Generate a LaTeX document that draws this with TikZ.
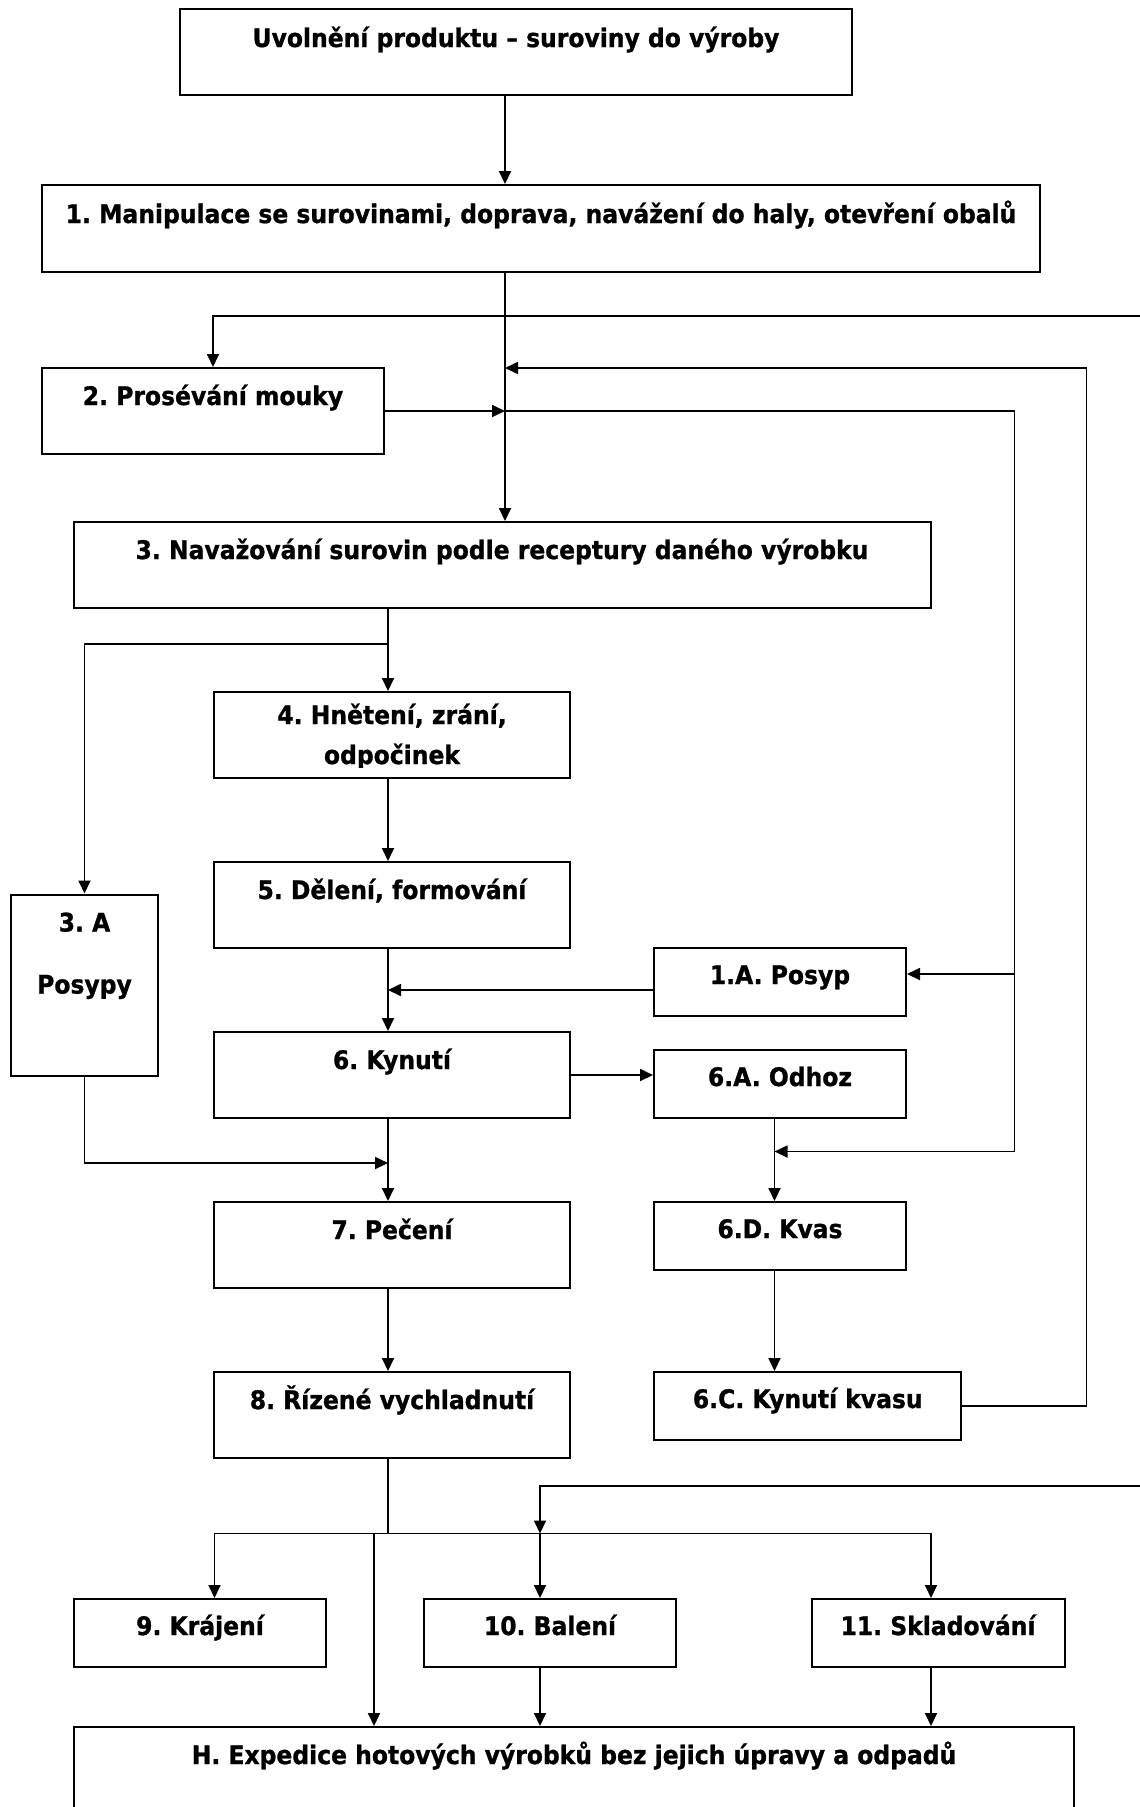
\documentclass[tikz,border=0pt]{standalone}
\usepackage{fontspec}
\setmainfont{DejaVu Sans}[FakeStretch=0.92, BoldFeatures={FakeBold=1}]
\frenchspacing
\usetikzlibrary{arrows.meta,positioning,calc}

\begin{document}
\begin{tikzpicture}[
  x=1pt,
  y=-1pt,
  every node/.style={font=\fontsize{25.5}{30}\selectfont\bfseries},
  box/.style 2 args={draw, line width=2pt, inner sep=0pt, minimum width=#1, minimum height=#2},
  lbl/.style={anchor=base, inner sep=0pt},
  arr/.style={line width=1.8pt, -{Triangle[length=13pt,width=12pt]}},
  link/.style={line width=1.8pt}
]
  \path[fill=white, use as bounding box] (0,0) rectangle (1140,1807);

  % Columns of the connectors
  \coordinate (trunk) at (505,0);
  \coordinate (spine) at (388,0);
  \coordinate (loopA) at (1014.5,0);
  \coordinate (kvas) at (774.5,0);
  \coordinate (back) at (1086.5,368);
  \coordinate (feedA) at (1145,316);
  \coordinate (feedB) at (1145,1486);

  % Main column
  \node[box={672pt}{86pt}] (b0) at (516,52) {};
  \node[lbl] (t0) at ([yshift=-39pt]b0.north) {Uvolnění produktu – suroviny do výroby};
  \node[box={998pt}{87pt}] (b1) at (541,228.5) {};
  \node[lbl] (t1) at ([yshift=-39pt]b1.north) {1. Manipulace se surovinami, doprava, navážení do haly, otevření obalů};
  \node[box={342pt}{86pt}] (b2) at (213,411) {};
  \node[lbl] (t2) at ([yshift=-38pt]b2.north) {2. Prosévání mouky};
  \node[box={857pt}{86pt}] (b3) at (502,565) {};
  \node[lbl] (t3) at ([yshift=-38pt]b3.north) {3. Navažování surovin podle receptury daného výrobku};
  \node[box={356pt}{86pt}] (b4) at (392,735) {};
  \node[lbl] (t4a) at ([yshift=-33pt]b4.north) {4. Hnětení, zrání,};
  \begin{scope}
    \clip (b4.north west) rectangle ([yshift=12pt]b4.south east);
    \node[lbl] (t4b) at ([yshift=-73pt]b4.north) {odpočinek};
  \end{scope}
  \node[box={356pt}{86pt}] (b5) at (392,905) {};
  \node[lbl] (t5) at ([yshift=-38pt]b5.north) {5. Dělení, formování};
  \node[box={147pt}{181pt}] (b3a) at (84.5,985) {};
  \node[lbl] (t3a) at ([yshift=-38pt]b3a.north) {3. A};
  \node[lbl] (t3b) at ([yshift=-100pt]b3a.north) {Posypy};
  \node[box={356pt}{86pt}] (b6) at (392,1075) {};
  \node[lbl] (t6) at ([yshift=-38pt]b6.north) {6. Kynutí};
  \node[box={356pt}{86pt}] (b7) at (392,1245) {};
  \node[lbl] (t7) at ([yshift=-38pt]b7.north) {7. Pečení};
  \node[box={356pt}{86pt}] (b8) at (392,1415) {};
  \node[lbl] (t8) at ([yshift=-38pt]b8.north) {8. Řízené vychladnutí};

  % Side column
  \node[box={252pt}{68pt}] (b1a) at (780,982) {};
  \node[lbl] (t1a) at ([yshift=-37pt]b1a.north) {1.A. Posyp};
  \node[box={252pt}{68pt}] (b6a) at (780,1084) {};
  \node[lbl] (t6a) at ([yshift=-37pt]b6a.north) {6.A. Odhoz};
  \node[box={252pt}{68pt}] (b6d) at (780,1236) {};
  \node[lbl] (t6d) at ([yshift=-37pt]b6d.north) {6.D. Kvas};
  \node[box={307pt}{68pt}] (b6c) at (807.75,1406) {};
  \node[lbl] (t6c) at ([yshift=-37pt]b6c.north) {6.C. Kynutí kvasu};

  % Bottom row
  \node[box={252pt}{68pt}] (b9) at (200,1633) {};
  \node[lbl] (t9) at ([yshift=-37pt]b9.north) {9. Krájení};
  \node[box={252pt}{68pt}] (b10) at (550,1633) {};
  \node[lbl] (t10) at ([yshift=-37pt]b10.north) {10. Balení};
  \node[box={253pt}{68pt}] (b11) at (938,1633) {};
  \node[lbl] (t11) at ([yshift=-37pt]b11.north) {11. Skladování};
  \node[box={1000pt}{120pt}] (bH) at (574,1787) {};
  \node[lbl] (tH) at ([yshift=-38pt]bH.north) {H. Expedice hotových výrobků bez jejich úpravy a odpadů};

  % Connectors: top part
  \draw[arr] (b0.south -| trunk) -- (b1.north -| trunk);
  \draw[arr] (b1.south -| trunk) -- (b3.north -| trunk);
  \draw[arr] (feedA) -| (b2.north);
  \draw[arr] (b2.east) -- (b2.east -| trunk);
  \draw[arr] (b6c.east) -| (back) -- (back -| trunk);
  \coordinate (mixin) at (1014.5,1151.5);
  \draw[arr] (b2.east -| trunk) -| (mixin) -- (mixin -| kvas);
  \draw[arr] ([yshift=8pt]b1a.east -| loopA) -- ([yshift=8pt]b1a.east);

  % Connectors: dough line
  \coordinate (fork3) at (388,644);
  \draw[arr] (b3.south -| spine) -- (b4.north -| spine);
  \draw[arr] (fork3) -| (b3a.north);
  \draw[arr] (b4.south -| spine) -- (b5.north -| spine);
  \draw[arr] (b5.south -| spine) -- (b6.north -| spine);
  \draw[arr] ([yshift=-8pt]b1a.west) -- ([yshift=-8pt]b1a.west -| spine);
  \draw[arr] (b6.east) -- (b6.east -| b6a.west);
  \coordinate (join7) at (0,1163);
  \draw[arr] (b3a.south) |- (join7 -| spine);
  \draw[arr] (b6.south -| spine) -- (b7.north -| spine);
  \draw[arr] (b7.south -| spine) -- (b8.north -| spine);
  \draw[arr] (b6a.south -| kvas) -- (b6d.north -| kvas);
  \draw[arr] (b6d.south -| kvas) -- (b6c.north -| kvas);

  % Connectors: bottom part
  \coordinate (split) at (388,1533.5);
  \coordinate (distL) at (214.5,1533.5);
  \coordinate (distM) at (540,1533.5);
  \coordinate (distR) at (931,1533.5);
  \coordinate (direct) at (374,1533.5);
  \draw[link] (b8.south -| spine) -- (split);
  \draw[arr] (split) -| (distL |- b9.north);
  \draw[arr] (split) -| (distR |- b11.north);
  \draw[arr] (distM) -- (distM |- b10.north);
  \draw[arr] (feedB) -| (distM);
  \draw[arr] (direct) -- (direct |- bH.north);
  \draw[arr] (b10.south -| distM) -- (bH.north -| distM);
  \draw[arr] (b11.south -| distR) -- (bH.north -| distR);
\end{tikzpicture}
\end{document}
